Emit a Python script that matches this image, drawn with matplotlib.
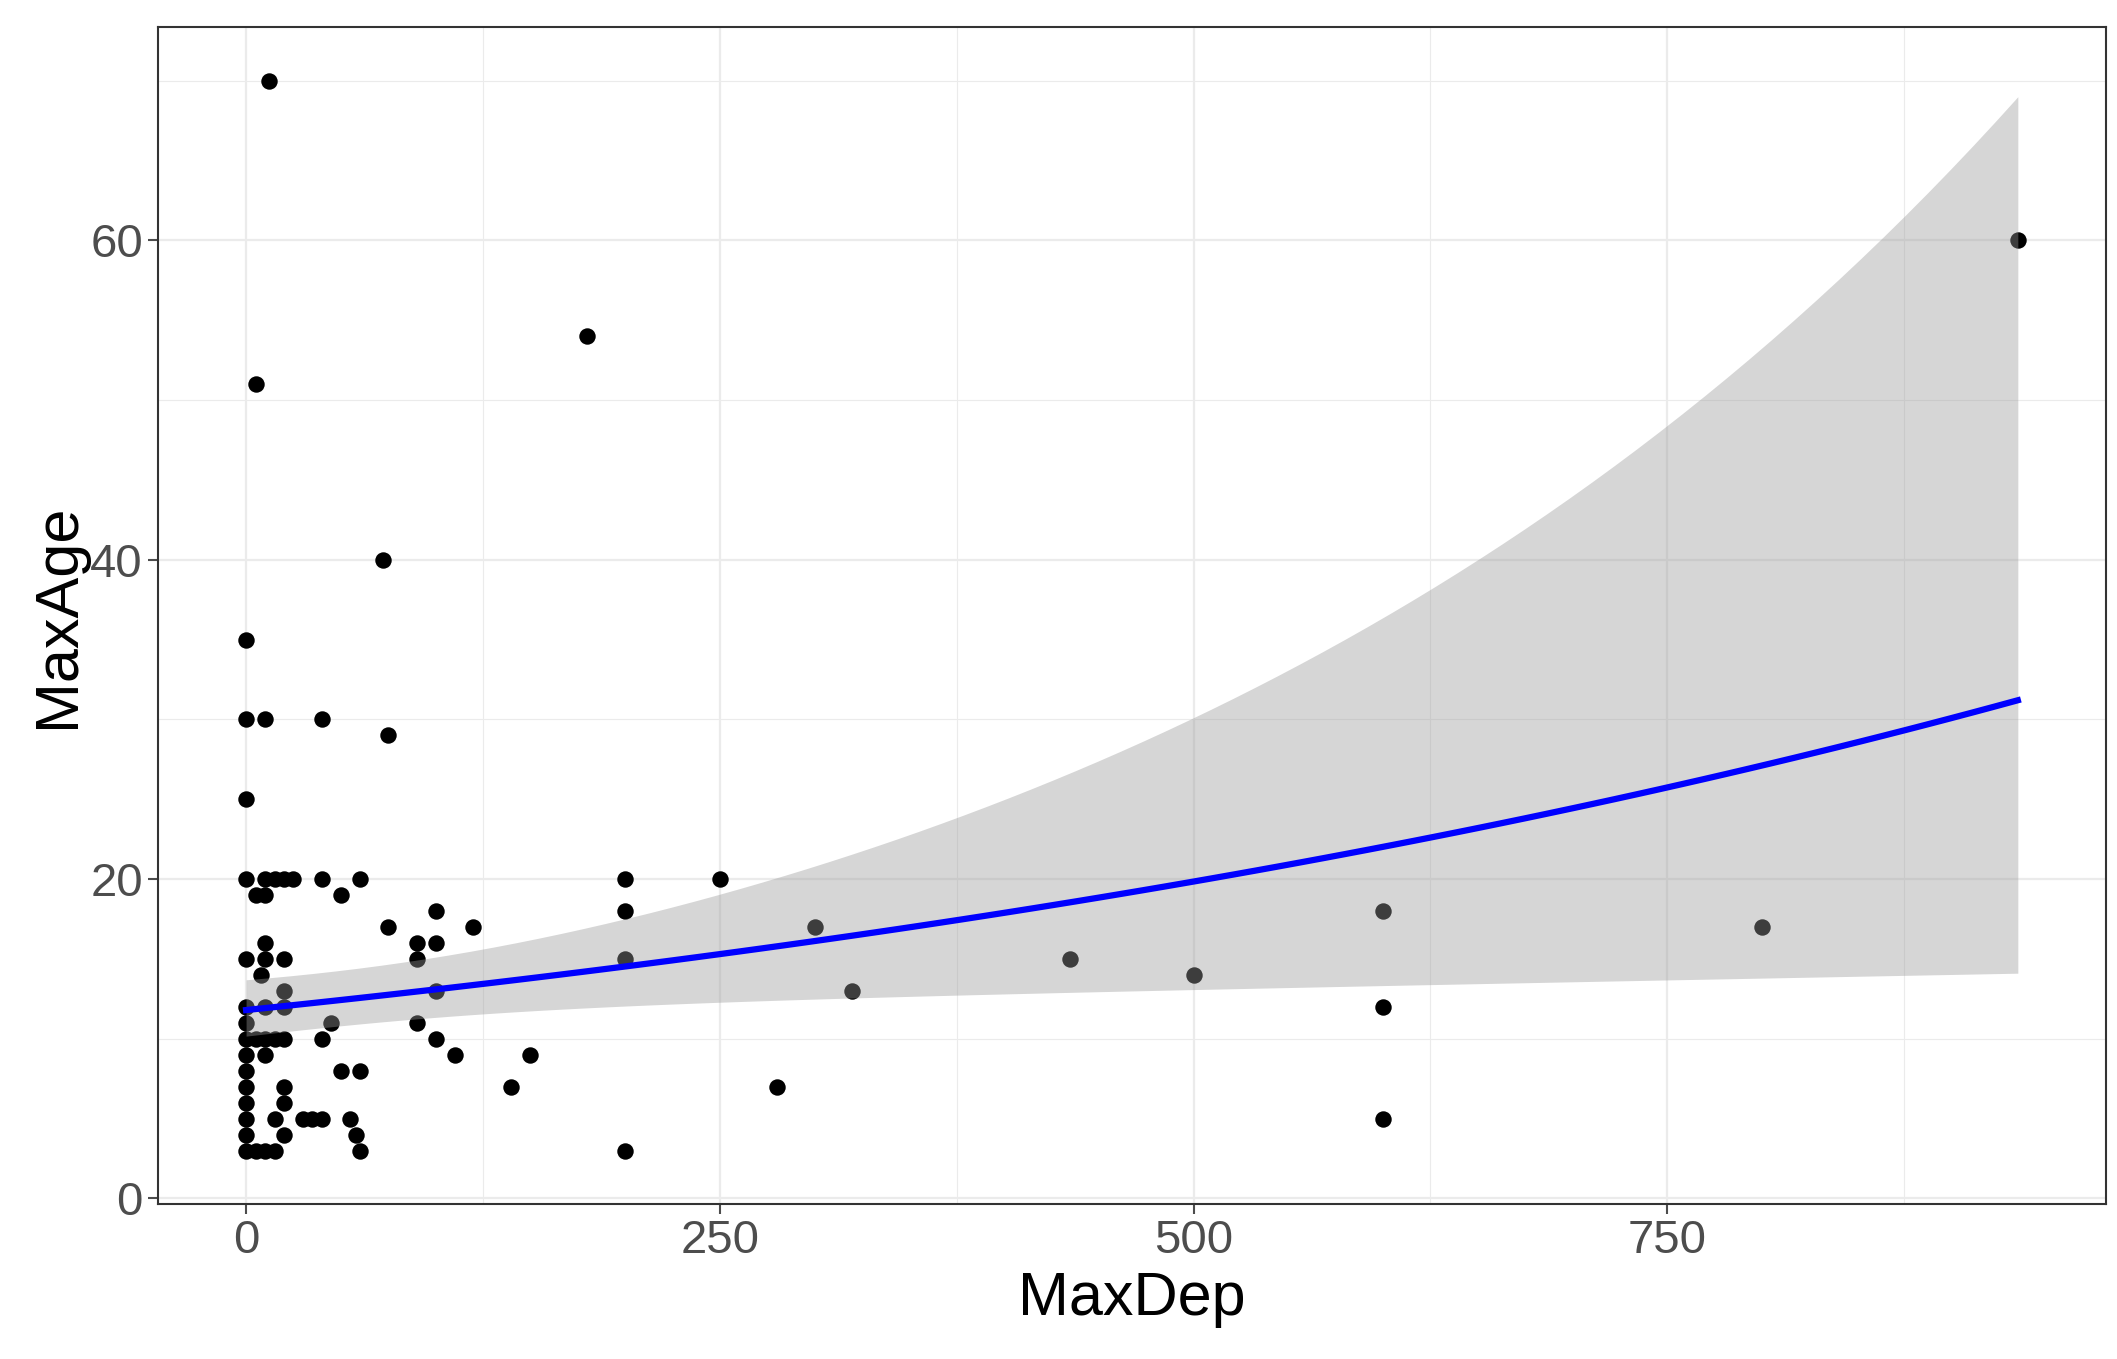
import numpy as np
import matplotlib.pyplot as plt

plt.rcParams['font.family'] = ['Liberation Sans', 'DejaVu Sans']

# MaxDep, MaxAge
pts = [(0, 3), (0, 4), (0, 5), (0, 6), (0, 7), (0, 8), (0, 9), (0, 10), (0, 11), (0, 12),
       (0, 15), (0, 20), (0, 25), (0, 30), (0, 35),
       (5, 51), (5, 19), (10, 19), (10, 20), (15, 20), (20, 20), (25, 20), (10, 16), (10, 15),
       (20, 15), (8, 14), (20, 13), (10, 12), (20, 12), (5, 10), (10, 10), (15, 10), (20, 10),
       (10, 9), (20, 7), (20, 6), (15, 5), (20, 4), (5, 3), (10, 3), (15, 3), (10, 30), (12, 70),
       (30, 5), (35, 5), (40, 5), (40, 10), (40, 20), (40, 30), (45, 11), (50, 19), (50, 8),
       (55, 5), (58, 4), (60, 3), (60, 8), (60, 20), (72, 40), (75, 29), (75, 17), (90, 16),
       (90, 15), (90, 11), (100, 18), (100, 16), (100, 13), (100, 10), (110, 9), (120, 17),
       (140, 7), (150, 9), (180, 54), (200, 20), (200, 18), (200, 15), (200, 3), (250, 20),
       (280, 7), (300, 17), (320, 13), (435, 15), (500, 14), (600, 18), (600, 12), (600, 5),
       (800, 17), (935, 60)]
x = np.array([p[0] for p in pts], float)
y = np.array([p[1] for p in pts], float)

# log-link fit: coefficients and their covariance
beta = np.array([np.log(11.8), np.log(31.2 / 11.8) / 935])
v0, v1 = 0.076 ** 2, 2.076e-7
cov = np.array([[v0, -60 * v1], [-60 * v1, v1]])

xs = np.linspace(x.min(), x.max(), 80)
Xs = np.column_stack([np.ones_like(xs), xs])
eta = Xs @ beta
se = np.sqrt(np.einsum('ij,jk,ik->i', Xs, cov, Xs))

fig = plt.figure(figsize=(21.17, 13.59), dpi=100)
ax = fig.add_axes([0.0744, 0.114, 0.9206, 0.866])
ax.scatter(x, y, s=140, color='black', zorder=2, linewidths=0)
ax.fill_between(xs, np.exp(eta - 1.96 * se), np.exp(eta + 1.96 * se),
                color='#999999', alpha=0.4, linewidth=0, zorder=3)
ax.plot(xs, np.exp(eta), color='blue', lw=4.5, zorder=4)

ax.set_xlim(-46.75, 981.75)
ax.set_ylim(-0.35, 73.35)
ax.set_xticks([0, 250, 500, 750])
ax.set_yticks([0, 20, 40, 60])
ax.set_xticks([125, 375, 625, 875], minor=True)
ax.set_yticks([10, 30, 50, 70], minor=True)
ax.grid(True, which='major', color='#ebebeb', lw=1.6)
ax.grid(True, which='minor', color='#ebebeb', lw=0.8)
ax.set_axisbelow(True)
for s in ax.spines.values():
    s.set_color('#333333')
    s.set_linewidth(1.5)
ax.tick_params(which='major', labelsize=34, colors='#4d4d4d', length=7, width=1.5)
ax.tick_params(which='minor', length=0)
ax.set_xlabel('MaxDep', fontsize=44, labelpad=6)
ax.set_ylabel('MaxAge', fontsize=44, labelpad=2)

fig.savefig('out.png', dpi=100)
